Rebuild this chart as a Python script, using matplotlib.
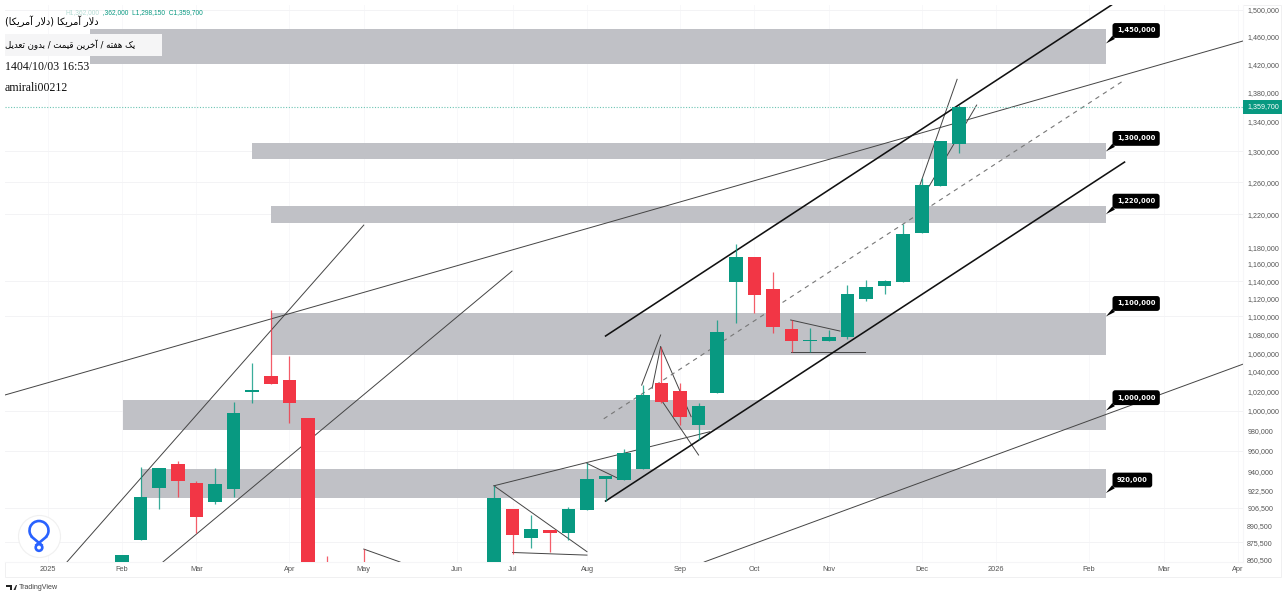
import matplotlib
matplotlib.use('Agg')
import matplotlib.pyplot as plt
from matplotlib.patches import Rectangle, Circle, Arc, Polygon

W, H = 1287, 597

# weekly candles, week 0 = first week of Feb 2025
weeks = [0, 1, 2, 3, 4, 5, 6, 7, 8, 9, 10, 11, 13, 20, 21, 22, 23, 24, 25, 26, 27, 28, 29, 30,
         31, 32, 33, 34, 35, 36, 37, 38, 39, 40, 41, 42, 43, 44, 45]
opens = [850000, 877000, 924900, 947400, 929000, 911600, 923700, 1018800, 1035600, 1031400, 992800, 850000, 850000,
         858100, 905500, 878700, 886200, 883200, 904300, 932900, 931800, 942600, 1028000, 1020000,
         985500, 1017900, 1138700, 1167900, 1131000, 1085700, 1073000, 1073300, 1077600, 1119600, 1134100,
         1138700, 1196600, 1255700, 1309600]
highs = [864000, 944600, 943200, 950500, 931600, 943800, 1009000, 1049100, 1107300, 1056900, 992800, 863200, 869300,
         926800, 905500, 899700, 886200, 907400, 948000, 935900, 961900, 1026200, 1066800, 1028000,
         1008000, 1096100, 1183700, 1167900, 1151000, 1096100, 1087500, 1085000, 1135600, 1141400, 1141000,
         1208000, 1265300, 1314200, 1362000]
lows = [845000, 877000, 905300, 916500, 883500, 909800, 916500, 1007400, 1026900, 987200, 840000, 840000, 840000,
        858100, 864600, 869900, 866900, 877000, 904300, 912500, 931800, 942600, 1008000, 985500,
        970800, 1017900, 1092400, 1103800, 1082100, 1061600, 1061600, 1072500, 1074900, 1117700, 1124900,
        1138700, 1196600, 1255000, 1298150]
closes = [864000, 916500, 943200, 930900, 898200, 928300, 997200, 1021000, 1026900, 1008000, 845000, 845000, 845000,
          915000, 881700, 886800, 883500, 905000, 933500, 935900, 958200, 1016000, 1008800, 993300,
          1004700, 1082700, 1167900, 1123800, 1088700, 1073300, 1073800, 1077600, 1124900, 1133700, 1140600,
          1195800, 1256500, 1314200, 1359700]

# support/resistance zones
zone_left = [-1.72, 7.0, 8.0, 8.0, 0.05, 1.0]
zone_right = 52.9
zone_top = [1471400, 1311000, 1230200, 1103500, 1010800, 943000]
zone_bottom = [1420200, 1289400, 1209500, 1058000, 980500, 915000]
zone_levels = [1450000, 1300000, 1220000, 1100000, 1000000, 920000]

# drawn trend lines (x0, x1, y0, y1)
thick_lines = [(26.0, 53.2, 1078500, 1507600),
               (26.0, 53.9, 912600, 1286000)]
dashed_lines = [(25.9, 53.9, 991800, 1397400)]
thin_lines = [(-6.29, 60.27, 1016000, 1453700),
              (31.3, 60.27, 858000, 1048200),
              (-2.96, 13.0, 858000, 1206600),
              (2.2, 20.97, 858000, 1151700),
              (20.0, 31.6, 926800, 978900),
              (20.0, 25.0, 926800, 867000),
              (21.0, 25.0, 866300, 864000),
              (25.0, 26.6, 948000, 934400),
              (27.94, 28.96, 1026200, 1079600),
              (28.5, 28.96, 1022800, 1066800),
              (28.96, 30.6, 1066800, 993900),
              (29.0, 31.0, 1010800, 956100),
              (35.95, 38.6, 1096100, 1083900),
              (35.95, 39.95, 1061600, 1061600),
              (42.9, 44.9, 1256500, 1398400),
              (43.4, 45.95, 1255200, 1362400),
              (13.0, 14.95, 869300, 858000)]

month_pos = [-4, 0, 4, 9, 13, 18, 21, 25, 30, 34, 38, 43, 47, 52, 56, 60]
month_labels = ['2025', 'Feb', 'Mar', 'Apr', 'May', 'Jun', 'Jul', 'Aug', 'Sep', 'Oct', 'Nov', 'Dec', '2026', 'Feb', 'Mar', 'Apr']

price_ticks = [1500000, 1460000, 1420000, 1380000, 1340000, 1300000, 1260000, 1220000, 1180000, 1160000, 1140000,
               1120000, 1100000, 1080000, 1060000, 1040000, 1020000, 1000000, 980000, 960000, 940000, 922500,
               906500, 890500, 875500, 860500]
grid_prices = [1500000, 1300000, 1260000, 1220000, 1140000, 1100000, 1000000, 960000, 906500, 875500]
last_price = 1359700

UP = '#089981'
DOWN = '#f23645'

FORMS = {'ا': 'ﺍﺎ', 'آ': 'ﺁﺂ', 'د': 'ﺩﺪ', 'ر': 'ﺭﺮ', 'و': 'ﻭﻮ',
         'ب': 'ﺏﺐﺑﺒ', 'ت': 'ﺕﺖﺗﺘ', 'خ': 'ﺥﺦﺧﺨ', 'ع': 'ﻉﻊﻋﻌ', 'ف': 'ﻑﻒﻓﻔ',
         'ق': 'ﻕﻖﻗﻘ', 'ل': 'ﻝﻞﻟﻠ', 'م': 'ﻡﻢﻣﻤ', 'ن': 'ﻥﻦﻧﻨ', 'ه': 'ﻩﻪﻫﻬ',
         'ک': 'ﮎﮏﮐﮑ', 'ی': 'ﯼﯽﯾﯿ'}
MIRROR = {'(': ')', ')': '('}


def shape_fa(text):
    # matplotlib does no arabic shaping, so pick the forms by hand and reverse
    out = []
    i = 0
    while i < len(text):
        c = text[i]
        if c not in FORMS:
            out.append(MIRROR.get(c, c))
            i += 1
            continue
        prev = text[i - 1] if i > 0 else ' '
        joins_prev = prev in FORMS and len(FORMS[prev]) == 4
        nxt = text[i + 1] if i + 1 < len(text) else ' '
        if c == 'ل' and nxt == 'ا':
            out.append('ﻼ' if joins_prev else 'ﻻ')
            i += 2
            continue
        forms = FORMS[c]
        joins_next = len(forms) == 4 and nxt in FORMS
        if joins_prev and joins_next:
            out.append(forms[3])
        elif joins_next:
            out.append(forms[2])
        elif joins_prev:
            out.append(forms[1])
        else:
            out.append(forms[0])
        i += 1
    return ''.join(reversed(out))


fig = plt.figure(figsize=(W / 100, H / 100), dpi=100, facecolor='white')
ax = fig.add_axes([5 / W, 1 - 562 / H, (1243 - 5) / W, (562 - 5) / H])
ax.set_yscale('log')
ax.set_xlim(-6.29, 60.27)
ax.set_ylim(858000, 1507600)

# grid
for m in month_pos:
    ax.axvline(m, color='#f8f8fa', lw=0.7, zorder=0)
for p in grid_prices:
    ax.axhline(p, color='#f3f3f5', lw=0.7, zorder=0)

# zones
for left, top, bottom in zip(zone_left, zone_top, zone_bottom):
    ax.add_patch(Rectangle((left, bottom), zone_right - left, top - bottom, fc='#c0c1c6', ec='none', zorder=1))

# drawings
for x0, x1, y0, y1 in thin_lines:
    ax.plot([x0, x1], [y0, y1], color='#444444', lw=0.7, zorder=2)
for x0, x1, y0, y1 in dashed_lines:
    ax.plot([x0, x1], [y0, y1], color='#777777', lw=0.8, ls=(0, (4, 4)), zorder=2)
for x0, x1, y0, y1 in thick_lines:
    ax.plot([x0, x1], [y0, y1], color='#111111', lw=1.15, zorder=2)

ax.axhline(last_price, color='#6cc4b3', lw=0.8, ls=(0, (1, 1.5)), zorder=2)

# candles
for wk, o, hi, lo, c in zip(weeks, opens, highs, lows, closes):
    col = UP if c >= o else DOWN
    ax.vlines(wk, lo, hi, color=col, lw=0.9, alpha=0.8, zorder=3)
    ax.bar(wk, abs(c - o), bottom=min(o, c), width=0.735, color=col, edgecolor='none', zorder=4)

# level tags
for level in zone_levels:
    ax.annotate(f'{level:,}', xy=(zone_right, level), xytext=(11, 13), textcoords='offset pixels',
                color='white', fontsize=4.9, fontweight='bold', ha='left', va='center', zorder=6,
                bbox=dict(boxstyle='round,pad=0.65,rounding_size=0.4', fc='black', ec='black', lw=0),
                arrowprops=dict(arrowstyle='wedge,tail_width=0.6,shrink_factor=0.5', fc='black', ec='black', lw=0,
                                shrinkA=0, shrinkB=0, relpos=(0.08, 0.2)))

# axes
ax.yaxis.tick_right()
ax.set_yticks(price_ticks)
ax.set_yticklabels([f'{p:,}' for p in price_ticks], fontsize=5.1, color='#555555', family='Liberation Sans')
ax.minorticks_off()
ax.tick_params(axis='y', which='both', length=0, pad=3)
ax.set_xticks(month_pos)
ax.set_xticklabels(month_labels, fontsize=5.3, color='#555555', family='Liberation Sans')
ax.tick_params(axis='x', length=0, pad=3)
for side in ax.spines:
    ax.spines[side].set_visible(False)
ax.spines['bottom'].set_visible(True)
ax.spines['bottom'].set_color('#f5f5f7')
ax.spines['right'].set_visible(True)
ax.spines['right'].set_color('#f6f6f8')

ax.annotate('1,359,700', xy=(1.0, last_price), xycoords=ax.get_yaxis_transform(), xytext=(4, 0),
            textcoords='offset pixels', fontsize=5.1, color='white', family='Liberation Sans',
            ha='left', va='center', zorder=7, annotation_clip=False,
            bbox=dict(boxstyle='square,pad=0.5', fc=UP, ec='none'))

# outer frame of the screenshot
fig.add_artist(Rectangle((5 / W, 1 - 577 / H), (1281 - 5) / W, (577 - 5) / H, transform=fig.transFigure,
                         fc='none', ec='#f0f0f1', lw=0.7, zorder=0))

# header, laid over the chart
fig.add_artist(Rectangle((5 / W, 1 - 56 / H), 157 / W, 22 / H, transform=fig.transFigure,
                         fc='#f5f5f6', ec='none', zorder=8))
fig.text(100 / W, 1 - 13 / H, 'H1,362,000', fontsize=4.8, color='#b5dcd4', family='Liberation Sans', va='center', zorder=9, ha='right')
fig.text(99 / W, 1 - 13 / H, '  ,362,000  L1,298,150  C1,359,700', fontsize=4.8, color='#089981',
         family='Liberation Sans', va='center', zorder=9)
fig.text(5 / W, 1 - 21.5 / H, shape_fa('دلار آمریکا (دلار آمریکا)'), fontsize=6.9, color='black', va='center', zorder=9,
         family='DejaVu Sans')
fig.text(5 / W, 1 - 44.5 / H, shape_fa('یک هفته / آخرین قیمت / بدون تعدیل'), fontsize=6.2, color='black', va='center', zorder=9,
         family='DejaVu Sans')
fig.text(5 / W, 1 - 67.5 / H, '1404/10/03 16:53', fontsize=8.6, color='#111111', va='center', zorder=9, family='Liberation Serif')
fig.text(5 / W, 1 - 88 / H, 'amirali00212', fontsize=8.6, color='#111111', va='center', zorder=9, family='Liberation Serif')

# round logo, bottom left
logo = fig.add_axes([15 / W, 1 - 562 / H, 50 / W, 50 / H], zorder=9)
logo.set_xlim(15, 65)
logo.set_ylim(562, 512)
logo.axis('off')
logo.add_patch(Circle((39.5, 536.5), 21, fc='white', ec='#f0f0f0', lw=0.8))
logo.add_patch(Arc((39, 530.5), 19, 19, theta1=135, theta2=45, ec='#2962ff', lw=1.9))
logo.plot([32.3, 41.5], [537.3, 545], color='#2962ff', lw=1.9)
logo.plot([45.7, 36.5], [537.3, 545], color='#2962ff', lw=1.9)
logo.add_patch(Circle((39, 547.5), 3.3, fc='none', ec='#2962ff', lw=1.9))

# tradingview mark
fig.add_artist(Polygon([(6 / W, 1 - 585 / H), (12 / W, 1 - 585 / H), (12 / W, 1 - 590 / H), (9.5 / W, 1 - 590 / H),
                        (9.5 / W, 1 - 587 / H), (6 / W, 1 - 587 / H)], transform=fig.transFigure, fc='#222222', ec='none'))
fig.add_artist(Polygon([(13.5 / W, 1 - 590 / H), (16 / W, 1 - 585 / H), (17 / W, 1 - 585 / H), (15.5 / W, 1 - 590 / H)],
                       transform=fig.transFigure, fc='#222222', ec='none'))
fig.text(19 / W, 1 - 587.5 / H, 'TradingView', fontsize=5.1, color='#444444', va='center', family='Liberation Sans')

fig.savefig('out.png', dpi=100)
